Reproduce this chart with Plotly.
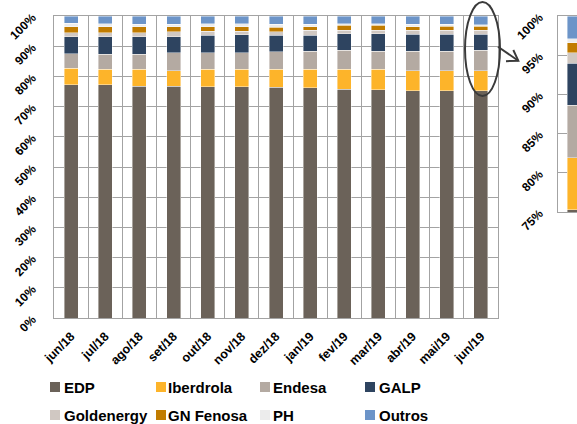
import plotly.graph_objects as go

months = ["jun/18", "jul/18", "ago/18", "set/18", "out/18", "nov/18", "dez/18",
          "jan/19", "fev/19", "mar/19", "abr/19", "mai/19", "jun/19"]

EDP        = [77.2, 77.2, 76.8, 76.8, 76.5, 76.5, 76.4, 76.2, 75.7, 75.6, 75.2, 75.2, 75.3]
Iberdrola  = [5.5, 5.2, 5.6, 5.1, 5.8, 5.8, 6.0, 6.2, 6.6, 6.7, 6.6, 6.6, 6.6]
Endesa     = [4.8, 4.9, 4.9, 6.0, 5.6, 5.6, 5.8, 5.9, 6.3, 6.1, 6.6, 6.6, 6.7]
GALP       = [5.7, 5.9, 5.9, 5.3, 5.7, 5.9, 5.4, 5.4, 5.5, 5.7, 5.5, 5.5, 5.4]
Goldenergy = [1.2, 1.2, 1.2, 1.6, 1.3, 1.1, 1.2, 1.6, 1.2, 1.2, 1.4, 1.4, 1.3]
GN_Fenosa  = [2.1, 2.0, 2.1, 1.7, 1.5, 1.5, 1.5, 1.2, 1.6, 1.6, 1.1, 1.3, 1.3]
PH         = [1.1, 1.0, 0.7, 0.7, 1.1, 1.1, 1.0, 0.8, 0.6, 0.6, 0.8, 0.6, 0.5]
Outros     = [2.4, 2.6, 2.8, 2.8, 2.5, 2.5, 2.7, 2.7, 2.5, 2.5, 2.8, 2.8, 2.9]

series_names = ["EDP", "Iberdrola", "Endesa", "GALP", "Goldenergy", "GN Fenosa", "PH", "Outros"]
series_values = [EDP, Iberdrola, Endesa, GALP, Goldenergy, GN_Fenosa, PH, Outros]
colors = ["#6b6259", "#fdb42a", "#b4aaa2", "#2e4460", "#d0c8c2", "#c17c00", "#ececec", "#6c94c8"]

y_ticks_main = list(range(0, 101, 10))
y_ticks_inset = list(range(75, 101, 5))

FONT = "Liberation Sans, Arial, sans-serif"
W, H = 577, 424
L, T, B = 54, 16, 318
PW, PH_ = W - L, B - T


def px(x):
    return (x - L) / PW


def py(y):
    return (B - y) / PH_


fig = go.Figure()

for name, vals, col in zip(series_names, series_values, colors):
    fig.add_trace(go.Bar(
        x=months, y=vals, name=name, marker_color=col,
        marker_line=dict(color="rgba(255,255,255,0.7)", width=0.6),
        xaxis="x", yaxis="y", showlegend=False,
    ))
    # inset: zoom on the last month
    fig.add_trace(go.Bar(
        x=[1.8], y=[vals[-1]], name=name, marker_color=col,
        marker_line=dict(color="rgba(255,255,255,0.7)", width=0.6),
        width=1.8, xaxis="x2", yaxis="y2", showlegend=False,
    ))

grid = "#a3a3a3"
fig.update_layout(
    width=W, height=H,
    template="none",
    barmode="stack",
    bargap=0.59,
    plot_bgcolor="white", paper_bgcolor="white",
    margin=dict(l=L, r=0, t=T, b=H - B, pad=0),
    font=dict(family=FONT, color="black"),
    xaxis=dict(
        domain=[0, (498 - L) / PW], type="category", tickson="boundaries",
        showgrid=True, gridcolor=grid, gridwidth=1.3,
        showline=True, linecolor=grid, linewidth=1.3, mirror=True,
        ticks="", tickangle=-45, ticklabelstandoff=5,
        tickfont=dict(family=FONT, size=12.5, weight="bold", color="black"),
        automargin=False, zeroline=False,
    ),
    yaxis=dict(
        range=[0, 100], tickvals=y_ticks_main,
        ticktext=[f"{v}%" for v in y_ticks_main],
        showgrid=True, gridcolor=grid, gridwidth=1.3,
        showline=True, linecolor=grid, linewidth=1.3, mirror=True,
        ticks="", tickangle=-45, ticklabelstandoff=18,
        tickfont=dict(family=FONT, size=12, weight="bold", color="black"),
        automargin=False, zeroline=False,
    ),
    xaxis2=dict(
        domain=[(558 - L) / PW, 1], range=[0, 1.9], anchor="y2",
        showticklabels=False, showgrid=False, zeroline=False,
        showline=True, linecolor=grid, linewidth=1.3, mirror=True, ticks="",
        automargin=False,
    ),
    yaxis2=dict(
        domain=[1 - (212 - T) / PH_, 1], range=[75, 100], anchor="x2",
        tickvals=y_ticks_inset,
        ticktext=[f"{v}%" for v in y_ticks_inset],
        showgrid=True, gridcolor=grid, gridwidth=1.3,
        showline=True, linecolor=grid, linewidth=1.3, mirror=False,
        ticks="", tickangle=-45, ticklabelstandoff=15,
        tickfont=dict(family=FONT, size=12, weight="bold", color="black"),
        automargin=False, zeroline=False,
    ),
)

shapes = []
annotations = []

# Manual legend (two rows, four columns)
sq_left = [50, 156, 260, 365]
txt_left = [63, 167, 272, 378]
row_c = [387, 415]
for i, (name, col) in enumerate(zip(series_names, colors)):
    r, c = divmod(i, 4)
    cy = row_c[r]
    shapes.append(dict(
        type="rect", xref="paper", yref="paper",
        x0=px(sq_left[c]), x1=px(sq_left[c] + 10),
        y0=py(cy + 5), y1=py(cy - 5),
        fillcolor=col, line=dict(width=0),
    ))
    annotations.append(dict(
        x=px(txt_left[c]), y=py(cy), xref="paper", yref="paper",
        xanchor="left", yanchor="middle", showarrow=False, text=name,
        font=dict(family=FONT, size=15, weight="bold", color="black"),
        borderpad=0,
    ))

# Ellipse around the last bar
shapes.append(dict(
    type="circle", xref="paper", yref="paper",
    x0=px(465), x1=px(500), y0=py(96), y1=py(2),
    line=dict(color="#3a3a3a", width=2),
))
# Arrow to the inset
shapes.append(dict(
    type="path", xref="paper", yref="paper",
    path=f"M {px(498)},{py(46.7)} L {px(518.3)},{py(60.7)}",
    line=dict(color="#3a3a3a", width=2),
))
shapes.append(dict(
    type="path", xref="paper", yref="paper",
    path=f"M {px(513.3)},{py(50)} L {px(518.3)},{py(60.7)} L {px(506)},{py(61.2)}",
    line=dict(color="#3a3a3a", width=2),
))

fig.update_layout(shapes=shapes, annotations=annotations)

fig.write_html(
    "out.html",
    config={"displayModeBar": False},
    post_script="document.body.style.margin='0';document.body.style.overflow='hidden';",
)
